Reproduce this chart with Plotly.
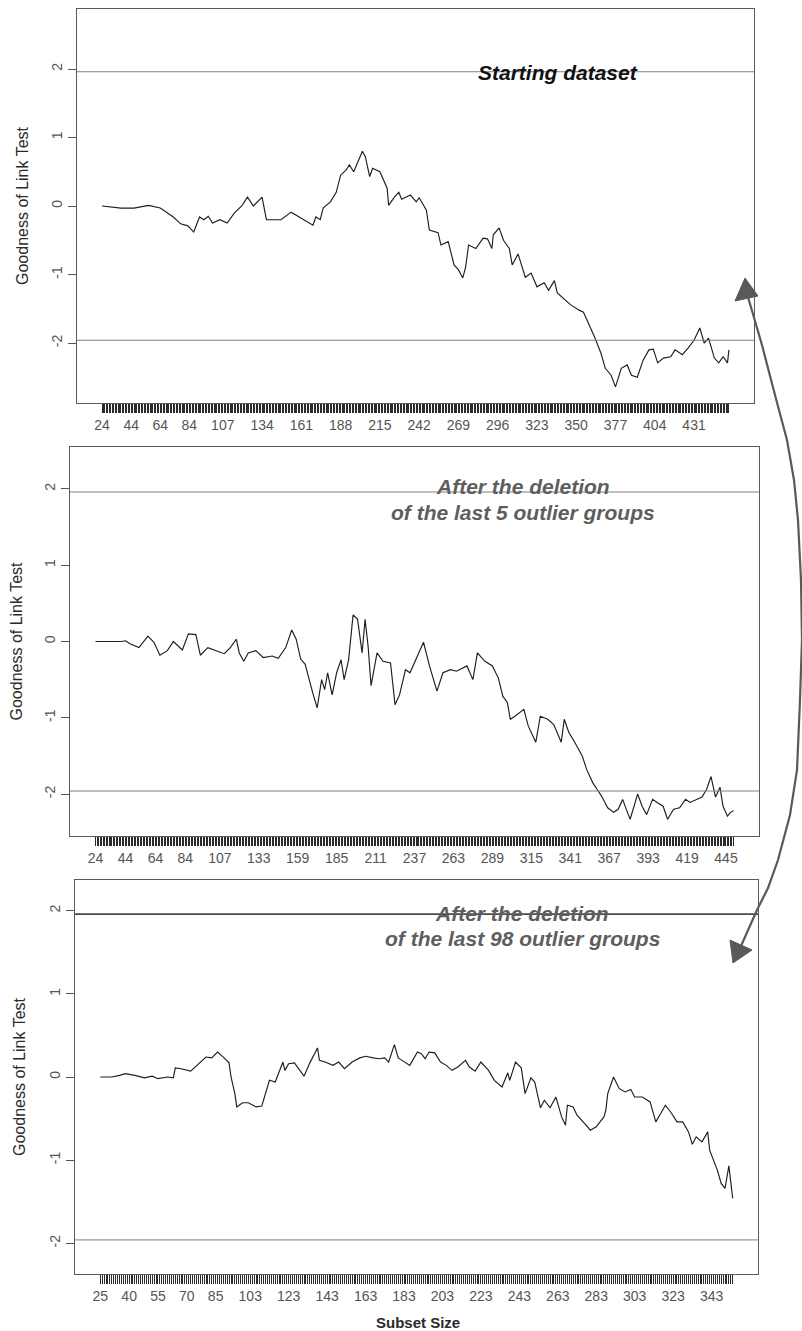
import plotly.graph_objects as go

W, H = 802, 1331

# Goodness-of-link test along the forward search: starting dataset
start_size = [24, 37, 46, 56, 64, 73, 78, 83, 87, 91, 94, 97, 100, 105, 110, 115, 120, 124, 128, 134,
              137, 142, 147, 154, 161, 169, 171, 174, 176, 181, 185, 188, 192, 194, 197, 203, 205, 208,
              210, 215, 220, 221, 225, 228, 230, 236, 240, 242, 247, 249, 255, 257, 262, 266, 269, 272,
              274, 276, 281, 286, 289, 292, 293, 297, 300, 304, 306, 310, 315, 319, 323, 328, 331, 335,
              337, 342, 346, 352, 355, 359, 363, 367, 370, 374, 377, 381, 385, 388, 392, 396, 400, 403,
              406, 410, 415, 418, 423, 427, 431, 435, 438, 441, 445, 448, 451, 454, 455]
start_glt = [0.00, -0.03, -0.03, 0.01, -0.03, -0.16, -0.26, -0.29, -0.38, -0.16, -0.20, -0.15, -0.25, -0.20,
             -0.25, -0.10, 0.00, 0.13, 0.00, 0.13, -0.20, -0.20, -0.20, -0.09, -0.18, -0.28, -0.16, -0.20,
             -0.03, 0.06, 0.20, 0.45, 0.53, 0.60, 0.50, 0.80, 0.72, 0.43, 0.55, 0.50, 0.26, 0.01, 0.13,
             0.20, 0.10, 0.16, 0.06, 0.12, -0.06, -0.35, -0.39, -0.57, -0.52, -0.86, -0.93, -1.05, -0.89,
             -0.57, -0.62, -0.47, -0.48, -0.62, -0.42, -0.32, -0.50, -0.62, -0.86, -0.70, -1.04, -0.98,
             -1.18, -1.12, -1.23, -1.09, -1.27, -1.36, -1.44, -1.52, -1.55, -1.74, -1.93, -2.15, -2.37,
             -2.47, -2.64, -2.37, -2.32, -2.47, -2.50, -2.25, -2.10, -2.09, -2.29, -2.22, -2.20, -2.10,
             -2.17, -2.07, -1.96, -1.78, -2.00, -1.93, -2.22, -2.29, -2.20, -2.29, -2.10]

# After the deletion of the last 5 outlier groups
del5_size = [24, 41, 44, 47, 53, 59, 63, 67, 72, 76, 82, 86, 91, 94, 99, 104, 110, 114, 118, 120, 123, 126,
             131, 136, 142, 146, 151, 155, 158, 161, 164, 169, 172, 175, 177, 179, 182, 185, 188, 190, 193,
             196, 199, 202, 204, 206, 208, 212, 216, 221, 224, 227, 231, 234, 237, 243, 247, 252, 256, 261,
             265, 272, 276, 279, 284, 289, 293, 296, 299, 301, 304, 310, 313, 318, 321, 326, 330, 332, 335,
             337, 340, 344, 349, 352, 356, 359, 362, 366, 370, 373, 376, 379, 381, 386, 389, 392, 396, 399,
             403, 406, 410, 414, 418, 421, 426, 429, 432, 435, 438, 441, 443, 446, 448, 450]
del5_glt = [0.00, 0.00, 0.01, -0.03, -0.08, 0.07, -0.01, -0.18, -0.12, 0.00, -0.11, 0.10, 0.09, -0.18, -0.08,
            -0.12, -0.16, -0.08, 0.03, -0.15, -0.26, -0.15, -0.12, -0.21, -0.19, -0.22, -0.08, 0.15, 0.03,
            -0.23, -0.30, -0.67, -0.87, -0.50, -0.63, -0.41, -0.70, -0.41, -0.24, -0.50, -0.24, 0.35, 0.29,
            -0.15, 0.29, -0.06, -0.58, -0.15, -0.26, -0.28, -0.83, -0.70, -0.37, -0.41, -0.28, -0.01, -0.32,
            -0.65, -0.41, -0.37, -0.39, -0.32, -0.50, -0.15, -0.26, -0.32, -0.48, -0.72, -0.80, -1.02, -0.98,
            -0.89, -1.11, -1.32, -0.98, -1.02, -1.09, -1.19, -1.32, -1.02, -1.19, -1.32, -1.50, -1.68, -1.85,
            -1.94, -2.03, -2.18, -2.24, -2.20, -2.07, -2.23, -2.33, -2.00, -2.16, -2.27, -2.07, -2.11, -2.16,
            -2.33, -2.20, -2.18, -2.07, -2.11, -2.07, -2.04, -1.94, -1.77, -2.04, -1.91, -2.16, -2.29, -2.24,
            -2.22]

# After the deletion of the last 98 outlier groups
del98_size = [25, 31, 35, 38, 43, 48, 52, 55, 60, 63, 64, 67, 72, 74, 77, 80, 83, 86, 89, 92, 93, 95, 96, 99,
              102, 106, 109, 111, 113, 116, 120, 121, 123, 126, 129, 131, 134, 138, 139, 142, 146, 149, 152,
              156, 160, 163, 167, 170, 173, 175, 178, 180, 182, 186, 190, 192, 194, 196, 199, 202, 205, 208,
              211, 215, 217, 220, 223, 227, 230, 234, 237, 238, 241, 244, 246, 249, 251, 254, 256, 259, 262,
              265, 267, 268, 271, 273, 277, 280, 283, 287, 288, 289, 292, 295, 298, 301, 303, 307, 311, 314,
              316, 319, 322, 325, 328, 331, 333, 335, 338, 341, 342, 346, 348, 350, 352, 353, 354]
del98_glt = [0.00, 0.00, 0.02, 0.04, 0.02, -0.01, 0.01, -0.02, 0.00, -0.01, 0.11, 0.10, 0.07, 0.11, 0.18, 0.24,
             0.23, 0.30, 0.24, 0.17, 0.00, -0.20, -0.36, -0.31, -0.31, -0.36, -0.35, -0.20, -0.04, -0.06,
             0.18, 0.08, 0.16, 0.17, 0.08, 0.01, 0.17, 0.35, 0.20, 0.18, 0.14, 0.18, 0.10, 0.18, 0.23, 0.25,
             0.23, 0.22, 0.23, 0.18, 0.39, 0.23, 0.20, 0.14, 0.30, 0.28, 0.22, 0.30, 0.29, 0.18, 0.14, 0.08,
             0.12, 0.20, 0.12, 0.07, 0.18, 0.08, -0.04, -0.12, 0.05, -0.04, 0.18, 0.11, -0.20, -0.01, -0.06,
             -0.37, -0.28, -0.37, -0.24, -0.48, -0.58, -0.34, -0.36, -0.46, -0.56, -0.64, -0.60, -0.48, -0.40,
             -0.20, 0.00, -0.14, -0.18, -0.15, -0.24, -0.24, -0.30, -0.54, -0.46, -0.34, -0.43, -0.54, -0.54,
             -0.66, -0.81, -0.72, -0.78, -0.66, -0.88, -1.12, -1.28, -1.34, -1.07, -1.28, -1.46]

# Subset sizes covered by each search (one tick per step) and the labelled ones
start_span = (24, 455)
del5_span = (24, 450)
del98_span = (25, 354)
start_labels = [24, 44, 64, 84, 107, 134, 161, 188, 215, 242, 269, 296, 323, 350, 377, 404, 431]
del5_labels = [24, 44, 64, 84, 107, 133, 159, 185, 211, 237, 263, 289, 315, 341, 367, 393, 419, 445]
del98_labels = [25, 40, 55, 70, 85, 103, 123, 143, 163, 183, 203, 223, 243, 263, 283, 303, 323, 343]

y_ticks = [-2, -1, 0, 1, 2]
y_ticktext = ["-2", "-1", "0", "1", "2"]
band = 1.96  # 95% normal limits

FONT = "Arial, Liberation Sans, sans-serif"


def fx(p):
    return p / W


def fy(p):
    return 1 - p / H


panels = [
    # plot box in pixels: left, top, right, bottom ; y half-range
    dict(size=start_size, glt=start_glt, span=start_span, labels=start_labels,
         box=(77, 9, 754, 403), yhalf=2.876, title_x=22),
    dict(size=del5_size, glt=del5_glt, span=del5_span, labels=del5_labels,
         box=(70, 447, 759, 836), yhalf=2.55, title_x=16),
    dict(size=del98_size, glt=del98_glt, span=del98_span, labels=del98_labels,
         box=(75, 880, 758, 1274), yhalf=2.37, title_x=19),
]

fig = go.Figure()
layout = dict(
    width=W, height=H,
    margin=dict(l=0, r=0, t=0, b=0),
    paper_bgcolor="white", plot_bgcolor="white",
    showlegend=False,
    font=dict(family=FONT, color="#4a4a4a"),
)
shapes = []
annotations = []

for i, p in enumerate(panels, start=1):
    sfx = "" if i == 1 else str(i)
    xa, ya = "x" + sfx, "y" + sfx
    left, top, right, bottom = p["box"]
    lo, hi = p["span"]
    pad = 0.04 * (hi - lo)
    steps = list(range(lo, hi + 1))
    labels = set(p["labels"])
    ticktext = [str(v) if v in labels else "" for v in steps]

    fig.add_trace(go.Scatter(
        x=p["size"], y=p["glt"], mode="lines",
        line=dict(color="#1e1e1e", width=1.15),
        xaxis=xa, yaxis=ya, hoverinfo="skip",
    ))

    layout["xaxis" + sfx] = dict(
        domain=[fx(left), fx(right)], range=[lo - pad, hi + pad], anchor=ya,
        tickmode="array", tickvals=steps, ticktext=ticktext,
        ticks="outside", ticklen=9, tickwidth=1, tickcolor="#2a2a2a",
        showline=True, linecolor="#5a5a5a", linewidth=1.2, mirror=True,
        showgrid=False, zeroline=False, automargin=False,
        tickfont=dict(family=FONT, size=14, color="#555555"),
    )
    layout["yaxis" + sfx] = dict(
        domain=[fy(bottom), fy(top)], range=[-p["yhalf"], p["yhalf"]], anchor=xa,
        tickmode="array", tickvals=y_ticks, ticktext=y_ticktext, tickangle=-90,
        ticks="outside", ticklen=8, tickwidth=1, tickcolor="#555555",
        showline=True, linecolor="#5a5a5a", linewidth=1.2, mirror=True,
        showgrid=False, zeroline=False, automargin=False,
        tickfont=dict(family=FONT, size=14, color="#555555"),
    )

    # normal limits at +/- 1.96
    for yv in (band, -band):
        heavy = (i == 3 and yv > 0)
        shapes.append(dict(
            type="line", xref=xa + " domain", yref=ya, x0=0, x1=1, y0=yv, y1=yv,
            line=dict(color="#4a4a4a" if heavy else "#808080", width=1.6 if heavy else 1),
        ))

    annotations.append(dict(
        text="Goodness of Link Test", textangle=-90, showarrow=False,
        xref="paper", yref="paper", x=fx(p["title_x"]), y=fy((top + bottom) / 2),
        xanchor="center", yanchor="middle",
        font=dict(family=FONT, size=16, color="#2a2a2a"),
    ))

# panel captions
cap_font_dark = dict(family=FONT, size=21, color="#111111")
cap_font_grey = dict(family=FONT, size=21, color="#5e5e5e")
captions = [
    ("<b><i>Starting dataset</i></b>", 558, 72, cap_font_dark),
    ("<b><i>After the deletion</i></b>", 523, 487, cap_font_grey),
    ("<b><i>of the last 5 outlier groups</i></b>", 523, 512, cap_font_grey),
    ("<b><i>After the deletion</i></b>", 522, 913, cap_font_grey),
    ("<b><i>of the last 98 outlier groups</i></b>", 522, 938, cap_font_grey),
]
for txt, cx, cy, fnt in captions:
    annotations.append(dict(
        text=txt, showarrow=False, xref="paper", yref="paper",
        x=fx(cx), y=fy(cy), xanchor="center", yanchor="middle", font=fnt,
    ))

annotations.append(dict(
    text="<b>Subset Size</b>", showarrow=False, xref="paper", yref="paper",
    x=fx(418), y=fy(1322), xanchor="center", yanchor="middle",
    font=dict(family=FONT, size=15, color="#2a2a2a"),
))

# curved double-headed arrow linking the first and last panels
curve_px = [(748, 297), (762, 345), (775, 395), (787, 440), (794, 480), (798, 520), (801, 580),
            (802, 640), (800, 700), (797, 770), (790, 815), (778, 860), (768, 888), (757, 910),
            (741, 946)]
path = "M " + " L ".join(f"{fx(a):.5f},{fy(b):.5f}" for a, b in curve_px)
arrow_col = "#595959"
shapes.append(dict(type="path", path=path, xref="paper", yref="paper",
                   line=dict(color=arrow_col, width=2.2)))
for tri in ([(745, 278), (735, 301), (758, 296)], [(733, 963), (730, 940), (752, 950)]):
    tp = "M " + " L ".join(f"{fx(a):.5f},{fy(b):.5f}" for a, b in tri) + " Z"
    shapes.append(dict(type="path", path=tp, xref="paper", yref="paper",
                       fillcolor=arrow_col, line=dict(color=arrow_col, width=1)))

layout["shapes"] = shapes
layout["annotations"] = annotations
fig.update_layout(**layout)
fig.write_html("out.html")
